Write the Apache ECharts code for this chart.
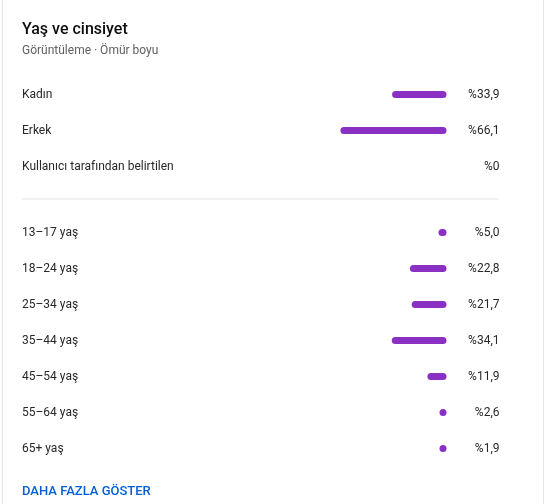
<!DOCTYPE html>
<html>
<head>
<meta charset="utf-8">
<script src="https://cdn.jsdelivr.net/npm/echarts@6/dist/echarts.min.js"></script>
<style>
  html, body { margin: 0; padding: 0; background: #fff; }
  #chart { width: 549px; height: 504px; }
</style>
</head>
<body>
<div id="chart"></div>
<script>
const genderCategories = ['Kadın', 'Erkek', 'Kullanıcı tarafından belirtilen'];
const genderValues = [33.9, 66.1, 0];
const ageCategories = ['13–17 yaş', '18–24 yaş', '25–34 yaş', '35–44 yaş', '45–54 yaş', '55–64 yaş', '65+ yaş'];
const ageValues = [5.0, 22.8, 21.7, 34.1, 11.9, 2.6, 1.9];

function pct(v) { return v === 0 ? '%0' : '%' + v.toFixed(1).replace('.', ','); }
function barData(arr) { return arr.map(v => v === 0 ? null : v); }

const FONT = 'Roboto';
const TEXT = '#282828';
const PURPLE = '#8a31c4';

const chart = echarts.init(document.getElementById('chart'), null, { renderer: 'canvas' });

function leftAxis(gridIndex, cats) {
  return {
    type: 'category', gridIndex, data: cats, inverse: true, position: 'left',
    axisLine: { show: false }, axisTick: { show: false }, splitLine: { show: false },
    axisLabel: { align: 'left', margin: 264, color: TEXT, fontFamily: FONT, fontSize: 12 }
  };
}
function rightAxis(gridIndex, vals) {
  return {
    type: 'category', gridIndex, data: vals.map(pct), inverse: true, position: 'right',
    axisLine: { show: false }, axisTick: { show: false }, splitLine: { show: false },
    axisLabel: { align: 'right', margin: 53, color: TEXT, fontFamily: FONT, fontSize: 12 }
  };
}
function valueAxis(gridIndex) {
  return {
    type: 'value', gridIndex, min: 0, max: 100, inverse: true, show: false,
    splitLine: { show: false }
  };
}
function barSeries(idx, vals) {
  return {
    type: 'bar', xAxisIndex: idx, yAxisIndex: idx * 2, data: barData(vals),
    barWidth: 7, barMinHeight: 7, silent: true,
    itemStyle: { color: PURPLE, borderRadius: 3.5 }
  };
}

chart.setOption({
  animation: false,
  grid: [
    { left: 286, right: 102.5, top: 76.5, height: 108 },
    { left: 286, right: 102.5, top: 214.5, height: 252 }
  ],
  xAxis: [valueAxis(0), valueAxis(1)],
  yAxis: [
    leftAxis(0, genderCategories), rightAxis(0, genderValues),
    leftAxis(1, ageCategories), rightAxis(1, ageValues)
  ],
  series: [barSeries(0, genderValues), barSeries(1, ageValues)],
  graphic: [
    { type: 'rect', shape: { x: 2, y: 0, width: 1, height: 504 }, style: { fill: '#e5e5e5' }, silent: true },
    { type: 'rect', shape: { x: 543, y: 0, width: 1, height: 504 }, style: { fill: '#e5e5e5' }, silent: true },
    { type: 'text', x: 22, y: 30, style: { text: 'Yaş ve cinsiyet', fill: '#0d0d0d', font: '500 16px Roboto', textVerticalAlign: 'middle' } },
    { type: 'text', x: 22, y: 50.5, style: { text: 'Görüntüleme · Ömür boyu', fill: '#606060', font: '12px Roboto', textVerticalAlign: 'middle' } },
    { type: 'rect', shape: { x: 22, y: 198.5, width: 477, height: 1 }, style: { fill: '#e5e5e5' }, silent: true },
    { type: 'text', x: 22, y: 492, style: { text: 'DAHA FAZLA GÖSTER', fill: '#065fd4', font: '500 13px Roboto', textVerticalAlign: 'middle' } }
  ]
});
</script>
</body>
</html>
